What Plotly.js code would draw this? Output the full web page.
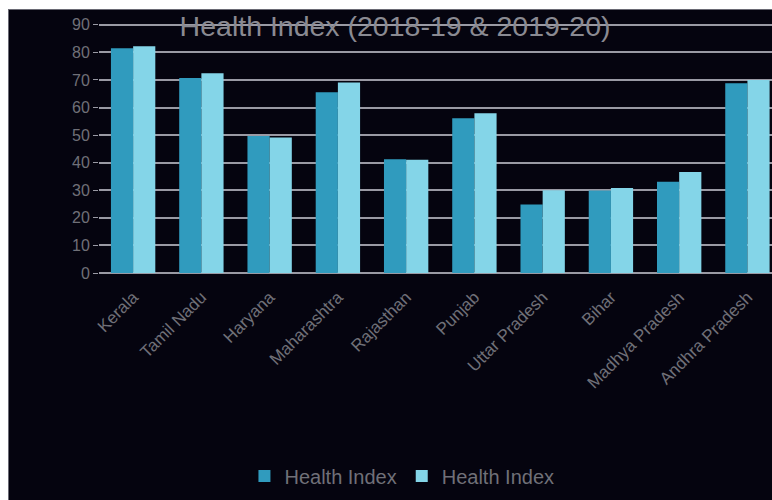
<!DOCTYPE html>
<html>
<head>
<meta charset="utf-8">
<script src="https://cdn.plot.ly/plotly-3.0.1.min.js"></script>
<style>
html,body{margin:0;padding:0;background:#ffffff;width:772px;height:500px;overflow:hidden;}
#chart{position:absolute;left:9px;top:10px;width:763px;height:490px;}
#frame{position:absolute;left:8px;top:9px;width:770px;height:500px;border-left:1px solid #6a6a74;border-top:1px solid #6a6a74;pointer-events:none;}
</style>
</head>
<body>
<div id="chart"></div>
<div id="frame"></div>
<script>
const states = ["Kerala","Tamil Nadu","Haryana","Maharashtra","Rajasthan","Punjab","Uttar Pradesh","Bihar","Madhya Pradesh","Andhra Pradesh"];
const index2018 = [81.5,70.7,49.7,65.5,41.2,56.1,24.8,29.9,33.1,68.8];
const index2019 = [82.2,72.4,49.1,69.1,41.1,57.9,30.0,30.8,36.6,70.0];
const yTicks = [0,10,20,30,40,50,60,70,80,90];

const traces = [
  {type:'bar', name:'Health Index', x:states, y:index2018, marker:{color:'#309bbe'}},
  {type:'bar', name:'Health Index', x:states, y:index2019, marker:{color:'#84d5e8'}}
];

const font = 'Liberation Sans, Arial, sans-serif';
const layout = {
  width:763, height:490,
  paper_bgcolor:'#05040f', plot_bgcolor:'#05040f',
  margin:{l:90, r:0, t:12, b:227},
  barmode:'group', bargap:0.35, bargroupgap:0,
  title:{text:'Health Index (2018-19 &amp; 2019-20)', x:0.506, xref:'container', xanchor:'center',
         y:0.967, yref:'container', yanchor:'middle',
         font:{family:font, size:28.5, color:'#8a8a92'}},
  xaxis:{range:[-0.5,9.36], tickangle:-45, showgrid:false, zeroline:false, showline:false,
         ticks:'', ticklabelstandoff:10, tickfont:{family:font, size:17, color:'#707078'}},
  yaxis:{range:[0,91], tickvals:yTicks, ticktext:yTicks.map(String), showgrid:true,
         gridcolor:'#9a9aa4', gridwidth:2, zeroline:true, zerolinecolor:'#9a9aa4', zerolinewidth:2,
         ticks:'outside', ticklen:5, tickcolor:'#9a9aa4', showline:false,
         tickfont:{family:font, size:16, color:'#707078'}},
  showlegend:true,
  legend:{orientation:'h', xref:'container', yref:'container', x:0.515, xanchor:'center', y:0.049, yanchor:'middle',
          font:{family:font, size:20, color:'#707078'},
          bgcolor:'rgba(0,0,0,0)', itemwidth:30}
};

Plotly.newPlot('chart', traces, layout, {displayModeBar:false, staticPlot:true});
</script>
</body>
</html>
